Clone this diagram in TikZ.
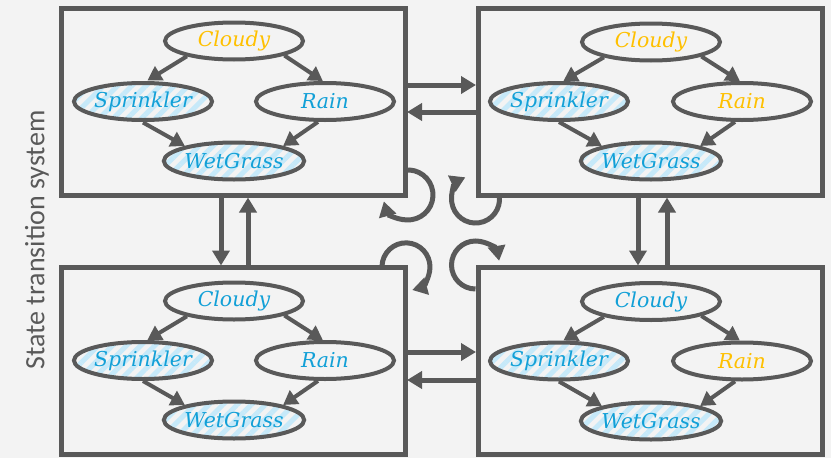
\documentclass[tikz,border=0pt]{standalone}
\usepackage{fontspec}
\newfontfamily\varfont{DejaVu Serif}
\newfontfamily\sidefont{Carlito}
\usetikzlibrary{shapes.geometric,arrows.meta,patterns.meta,calc}

\definecolor{bggray}{HTML}{F3F3F3}
\definecolor{linegray}{HTML}{595959}
\definecolor{varblue}{HTML}{12A0D7}
\definecolor{vargold}{HTML}{FFC000}
\definecolor{stripeblue}{HTML}{C6E9F9}

\tikzset{
    statebox/.style={draw=linegray, line width=5pt, minimum width=344pt, minimum height=187pt, inner sep=0pt, outer sep=0pt},
    var/.style={ellipse, draw=linegray, line width=4pt, minimum width=138pt, minimum height=37pt, inner sep=0pt,
        font=\varfont\itshape\fontsize{20.5}{20.5}\selectfont, text=varblue},
    lit/.style={text=vargold},
    hatched/.style={pattern={Lines[angle=45, distance=10pt, line width=5pt]}, pattern color=stripeblue},
    edge/.style={draw=linegray, line width=4pt, -{Triangle[length=14pt, width=16pt]}},
    move/.style={draw=linegray, line width=5pt, -{Triangle[length=15pt, width=17pt]}},
}

\begin{document}
\begin{tikzpicture}[x=1pt, y=-1pt]
    \fill[bggray] (0, 0) rectangle (831, 458);

    \node[rotate=90, text=linegray, font=\sidefont\fontsize{28}{28}\selectfont] (side) at (37, 240) {State transition system};

    % four states
    \node[statebox] at (233, 102)  (tl) {};
    \node[statebox] at (650, 102)  (tr) {};
    \node[statebox] at (233, 361)  (bl) {};
    \node[statebox] at (650, 361)  (br) {};

    % top left
    \node[var, lit]      at (234, 41)    (tlC) {Cloudy};
    \node[var, hatched]  at (143, 101.5) (tlS) {Sprinkler};
    \node[var]           at (325, 101.5) (tlR) {Rain};
    \node[var, hatched]  at (234, 161)   (tlW) {WetGrass};

    % top right
    \node[var, lit]      at (651, 42)    (trC) {Cloudy};
    \node[var, hatched]  at (559, 101.5) (trS) {Sprinkler};
    \node[var, lit]      at (742, 101.5) (trR) {Rain};
    \node[var, hatched]  at (651, 161)   (trW) {WetGrass};

    % bottom left
    \node[var]           at (234, 301)   (blC) {Cloudy};
    \node[var, hatched]  at (143, 360.5) (blS) {Sprinkler};
    \node[var]           at (325, 360.5) (blR) {Rain};
    \node[var, hatched]  at (234, 420)   (blW) {WetGrass};

    % bottom right
    \node[var]           at (651, 301.5) (brC) {Cloudy};
    \node[var, hatched]  at (559, 361)   (brS) {Sprinkler};
    \node[var, lit]      at (742, 361)   (brR) {Rain};
    \node[var, hatched]  at (651, 421)   (brW) {WetGrass};

    \foreach \s in {tl, tr, bl, br} {
        \draw[edge] (\s C.198) -- (\s S.78);
        \draw[edge] (\s C.344) -- (\s R.96);
        \draw[edge] (\s S.270) -- (\s W.163);
        \draw[edge] (\s R.251) -- (\s W.17);
    }

    % transitions
    \draw[move, shorten >=2pt] ([yshift=17pt]tl.east) -- ([yshift=17pt]tr.west);
    \draw[move, shorten >=2pt] ([yshift=-10pt]tr.west) -- ([yshift=-10pt]tl.east);
    \draw[move, shorten >=2pt] ([yshift=9pt]bl.east) -- ([yshift=9pt]br.west);
    \draw[move, shorten >=2pt] ([yshift=-19pt]br.west) -- ([yshift=-19pt]bl.east);

    \draw[move, shorten >=2pt] ([xshift=-12pt]tl.south) -- ([xshift=-12pt]bl.north);
    \draw[move, shorten >=2pt] ([xshift=15pt]bl.north) -- ([xshift=15pt]tl.south);
    \draw[move, shorten >=2pt] ([xshift=-12pt]tr.south) -- ([xshift=-12pt]br.north);
    \draw[move, shorten >=2pt] ([xshift=17pt]br.north) -- ([xshift=17pt]tr.south);

    % self loops
    \draw[move] ($(tl.south east)+(-0.5, -25.3)$) arc[start angle=-98, end angle=165, radius=25];
    \draw[move] ($(tr.south west)+(21.3, 0.2)$) arc[start angle=-8, end angle=245, radius=24];
    \draw[move] ($(bl.north east)+(-23, -1.5)$) arc[start angle=-178, end angle=75, radius=24];
    \draw[move] ($(br.north west)+(-2.5, 21.5)$) arc[start angle=90, end angle=350, radius=24];

\end{tikzpicture}
\end{document}
